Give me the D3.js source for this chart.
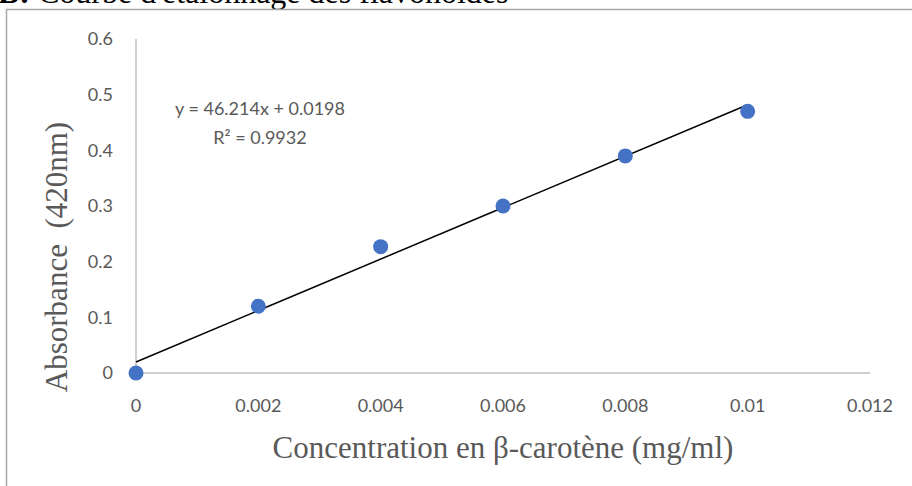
<!DOCTYPE html>
<html>
<head>
<meta charset="utf-8">
<script src="https://cdn.jsdelivr.net/npm/d3@7"></script>
<style>
  body { margin: 0; background: #fff; }
  svg { display: block; }
</style>
</head>
<body>
<svg id="chart" width="912" height="486"></svg>
<script>
// Data
const concentration = [0, 0.002, 0.004, 0.006, 0.008, 0.01];
const absorbance = [0, 0.12, 0.227, 0.30, 0.39, 0.47];
const xTicks = [0, 0.002, 0.004, 0.006, 0.008, 0.01, 0.012];
const yTicks = [0, 0.1, 0.2, 0.3, 0.4, 0.5, 0.6];
const slope = 46.214;
const intercept = 0.0198;
const equationLines = ["y = 46.214x + 0.0198", "R² = 0.9932"];

const svg = d3.select("#chart");

// Title (cut at the top in the source image)
svg.append("text")
    .attr("x", -2)
    .attr("y", 3)
    .attr("font-family", "Liberation Serif")
    .attr("font-size", 32)
    .attr("fill", "#000")
    .html('<tspan font-weight="bold">B:</tspan> Courbe d\'étalonnage des flavonoïdes');

// Chart frame
svg.append("path")
    .attr("d", "M6.5,490 V9.5 H920")
    .attr("fill", "none")
    .attr("stroke", "#a6a6a6")
    .attr("stroke-width", 1.5);

// Scales
const x = d3.scaleLinear().domain([0, 0.012]).range([136, 870]);
const y = d3.scaleLinear().domain([0, 0.6]).range([373, 39]);

// Axis lines
svg.append("line")
    .attr("x1", x(0)).attr("x2", x(0))
    .attr("y1", y(0.6)).attr("y2", y(0))
    .attr("stroke", "#bfbfbf").attr("stroke-width", 1.5);
svg.append("line")
    .attr("x1", x(0)).attr("x2", x(0.012))
    .attr("y1", y(0)).attr("y2", y(0))
    .attr("stroke", "#bfbfbf").attr("stroke-width", 1.5);

// Tick labels
svg.append("g")
    .selectAll("text")
    .data(yTicks)
    .enter().append("text")
    .attr("x", 113)
    .attr("y", d => y(d))
    .attr("dy", "0.35em")
    .attr("text-anchor", "end")
    .attr("font-family", "Lato")
    .attr("font-size", 18)
    .attr("fill", "#595959")
    .text(d => d3.format("~g")(d));

svg.append("g")
    .selectAll("text")
    .data(xTicks)
    .enter().append("text")
    .attr("x", d => x(d))
    .attr("y", 406)
    .attr("dy", "0.35em")
    .attr("text-anchor", "middle")
    .attr("font-family", "Lato")
    .attr("font-size", 18)
    .attr("fill", "#595959")
    .text(d => d3.format("~g")(d));

// Axis titles
svg.append("text")
    .attr("x", 503)
    .attr("y", 447)
    .attr("dy", "0.35em")
    .attr("text-anchor", "middle")
    .attr("font-family", "Liberation Serif")
    .attr("font-size", 31)
    .attr("fill", "#595959")
    .text("Concentration en β-carotène (mg/ml)");

svg.append("text")
    .attr("transform", "translate(56,257) rotate(-90)")
    .attr("dy", "0.35em")
    .attr("text-anchor", "middle")
    .attr("font-family", "Liberation Serif")
    .attr("font-size", 31)
    .attr("fill", "#595959")
    .style("white-space", "pre")
    .text("Absorbance  (420nm)");

// Trend line
const trendX = [0, 0.01];
svg.append("line")
    .attr("x1", x(trendX[0])).attr("y1", y(slope * trendX[0] + intercept))
    .attr("x2", x(trendX[1])).attr("y2", y(slope * trendX[1] + intercept))
    .attr("stroke", "#000").attr("stroke-width", 1.5);

// Points
svg.append("g")
    .selectAll("circle")
    .data(concentration)
    .enter().append("circle")
    .attr("cx", d => x(d))
    .attr("cy", (d, i) => y(absorbance[i]))
    .attr("r", 7.5)
    .attr("fill", "#4472c4");

// Equation label
svg.append("g")
    .selectAll("text")
    .data(equationLines)
    .enter().append("text")
    .attr("x", 260)
    .attr("y", (d, i) => 109 + i * 29)
    .attr("dy", "0.35em")
    .attr("text-anchor", "middle")
    .attr("font-family", "Lato")
    .attr("font-size", 18)
    .attr("fill", "#595959")
    .text(d => d);
</script>
</body>
</html>
